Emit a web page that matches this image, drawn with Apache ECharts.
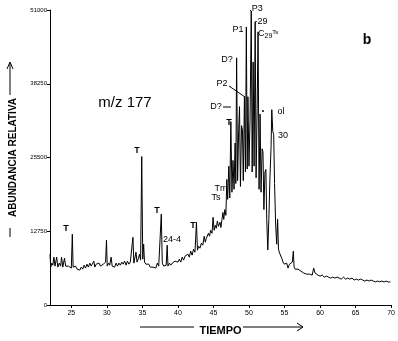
<!DOCTYPE html>
<html>
<head>
<meta charset="utf-8">
<script src="https://cdn.jsdelivr.net/npm/echarts@6/dist/echarts.min.js"></script>
<style>html,body{margin:0;padding:0;background:#fff}#c{width:398px;height:341px}</style>
</head>
<body>
<div id="c"></div>
<script>
var tiempo = [22.0,22.1,22.25,22.4,22.55,22.7,22.94,23.1,23.3,23.5,23.62,23.8,24.04,24.2,24.4,24.6,24.8,25.0,25.14,25.25,25.4,25.6,25.8,26.0,26.2,26.4,26.6,26.8,27.0,27.2,27.4,27.6,27.8,28.0,28.17,28.3,28.5,28.7,28.9,29.1,29.3,29.5,29.7,29.82,29.95,30.05,30.25,30.4,30.6,30.75,30.9,31.1,31.3,31.5,31.7,31.9,32.1,32.3,32.5,32.7,32.9,33.1,33.3,33.5,33.67,33.8,34.0,34.1,34.25,34.45,34.6,34.75,34.91,35.05,35.18,35.3,35.5,35.7,35.9,36.1,36.3,36.5,36.7,36.9,37.1,37.3,37.5,37.66,37.8,38.0,38.2,38.35,38.49,38.6,38.8,39.0,39.2,39.4,39.6,39.8,40.0,40.2,40.4,40.6,40.8,41.0,41.2,41.4,41.6,41.8,42.0,42.2,42.4,42.61,42.75,42.9,43.1,43.3,43.5,43.7,43.85,44.0,44.15,44.3,44.45,44.6,44.8,44.95,45.1,45.25,45.4,45.55,45.7,45.92,46.05,46.2,46.33,46.45,46.6,46.75,46.88,47.0,47.16,47.3,47.45,47.6,47.75,47.9,48.05,48.15,48.26,48.4,48.55,48.67,48.8,48.95,49.08,49.2,49.36,49.5,49.63,49.75,49.85,50.0,50.15,50.32,50.45,50.59,50.72,50.87,51.0,51.15,51.28,51.42,51.56,51.7,51.85,51.97,52.1,52.25,52.38,52.5,52.65,52.8,52.95,53.1,53.21,53.35,53.48,53.6,53.75,53.9,54.03,54.15,54.3,54.45,54.6,54.8,54.99,55.15,55.3,55.5,55.7,55.9,56.1,56.24,56.35,56.5,56.7,56.9,57.1,57.3,57.5,57.7,57.9,58.1,58.3,58.5,58.7,58.9,59.1,59.3,59.5,59.7,60.0,60.3,60.6,60.9,61.2,61.5,61.8,62.1,62.4,62.7,63.0,63.3,63.6,63.9,64.2,64.5,64.8,65.1,65.4,65.7,66.0,66.3,66.6,66.9,67.2,67.5,67.8,68.1,68.4,68.7,69.0,69.3,69.6,69.9];
var abundancia = [8800,6550,7240,6890,8270,6720,8270,6550,7240,6720,8270,6550,8100,6720,6380,6720,6550,6380,12230,6550,6380,6720,6210,6380,6030,6550,6200,6890,6380,7060,6550,7240,6720,7060,7580,6550,7060,6720,7240,6720,6890,7060,6720,7410,11200,6720,7240,6890,8270,6720,7060,6550,7240,6720,7240,6890,7410,7060,7580,6890,7580,7060,7410,7240,11700,7240,7580,9130,7410,8100,8790,7760,25670,7930,10500,7410,7060,6720,7060,6550,6890,6550,6890,6380,7240,6720,7060,15700,7240,6720,7060,6890,10340,6720,7240,6890,7240,7060,7580,7240,7410,7930,7410,8270,7750,8440,8100,8790,8270,9300,8620,9650,9130,14300,9470,10170,9820,10690,10340,11890,10860,11540,11200,12400,11890,12920,12400,15160,12920,13780,13260,14500,13600,14300,13400,14800,16000,14800,16500,15500,21700,18260,24000,18500,31700,19500,25000,20000,28000,21000,42730,21500,30320,34290,20500,31000,30320,21500,36000,23000,48070,23500,36000,24000,32000,50830,23000,42000,24000,48930,22000,34000,47210,20000,33000,19500,27000,26500,16500,23000,23430,14800,9500,15000,22000,27000,33770,30000,29460,21000,14000,10510,14820,9650,9000,9300,8100,7410,7060,6720,7240,6380,7060,6720,7410,9300,6550,6200,6030,6200,5860,5860,5690,5520,5690,5340,5520,5340,5520,5170,6380,5520,5340,5170,5000,5170,4820,5000,4820,4650,4820,4650,4820,4650,4480,4820,4480,4650,4480,4650,4310,4480,4310,4480,4310,4140,4310,4140,4310,4140,4000,4140,4000,4140,3970,4140,3970,4000];
var xTicks = [25,30,35,40,45,50,55,60,65,70];
var yTicks = [0,12750,25500,38250,51000];

var chart = echarts.init(document.getElementById('c'), null, {renderer:'canvas'});
var pts = tiempo.map(function(t,i){return [t, abundancia[i]];});
var F = 'Liberation Sans, Arial, sans-serif';
function txt(x,y,s,size,weight,extra){
  var o = {type:'text', x:x, y:y, style:{text:s, fill:'#000', font:(weight||'normal')+' '+size+'px '+F, textAlign:'center', textVerticalAlign:'middle'}};
  if (extra) for (var k in extra) o.style[k]=extra[k];
  return o;
}
function ln(x1,y1,x2,y2){return {type:'line', shape:{x1:x1,y1:y1,x2:x2,y2:y2}, style:{stroke:'#000', lineWidth:1}};}
function pl(p){return {type:'polyline', shape:{points:p}, style:{stroke:'#000', lineWidth:1, fill:null}};}

chart.setOption({
  animation:false,
  backgroundColor:'#fff',
  grid:{left:43, right:6, top:10, bottom:34, containLabel:false},
  xAxis:{
    type:'value', min:22, max:70,
    name:'TIEMPO', nameLocation:'middle', nameGap:20,
    nameTextStyle:{color:'#000', fontSize:11, fontWeight:'bold', fontFamily:F},
    axisLine:{lineStyle:{color:'#000', width:1}},
    axisTick:{show:true, length:3, lineStyle:{color:'#000'}, customValues:xTicks},
    axisLabel:{color:'#000', fontSize:7, fontFamily:F, margin:5, customValues:xTicks},
    splitLine:{show:false}
  },
  yAxis:{
    type:'value', min:0, max:51000, interval:12750,
    name:'ABUNDANCIA RELATIVA', nameLocation:'middle', nameGap:32, nameRotate:90,
    nameTextStyle:{color:'#000', fontSize:10, fontWeight:'bold', fontFamily:F},
    axisLine:{show:true, lineStyle:{color:'#000', width:1}},
    axisTick:{show:true, length:3, lineStyle:{color:'#000'}},
    axisLabel:{color:'#000', fontSize:6, fontFamily:F, margin:3,
      formatter:function(v){return String(v);}},
    splitLine:{show:false}
  },
  series:[{
    type:'line', data:pts, showSymbol:false, symbol:'none',
    lineStyle:{color:'#000', width:1}, silent:true
  }],
  graphic:[
    ln(10,228,10,237),
    ln(10,95,10,63), pl([[7,69],[10,62],[13,69]]),
    ln(140,327,194,327), ln(243,327,303,327), pl([[297,323],[303,327],[297,331]]),
    ln(229,86,245,97), ln(223,107,231,107),
    txt(125,103,'m/z 177',15),
    txt(367,40,'b',14,'bold'),
    txt(66,229,'T',9,'bold'),
    txt(137,151,'T',9,'bold'),
    txt(157,211,'T',9,'bold'),
    txt(172,240,'24-4',9),
    txt(193,226,'T',9,'bold'),
    txt(216,198,'Ts',9),
    txt(221,189,'Tm',9),
    txt(229,123,'T',9,'bold'),
    txt(227,60,'D?',9),
    txt(222,84,'P2',9),
    txt(216,107,'D?',9),
    txt(238,30,'P1',9),
    txt(256,9,'.P3',9),
    txt(261,22,'-29',9),
    {type:'text', x:258, y:34, style:{
      text:'C{s|29}{u|Ts}', font:'normal 9px '+F, fill:'#000', textVerticalAlign:'middle',
      rich:{s:{fontSize:7, fontFamily:F, padding:[5,0,0,0], textDecoration:'underline'}, u:{fontSize:6, fontFamily:F, padding:[0,0,4,0]}}
    }},
    txt(263,111,'\u2022',7),
    txt(281,112,'ol',9),
    txt(283,136,'30',9)
  ]
});
</script>
</body>
</html>
